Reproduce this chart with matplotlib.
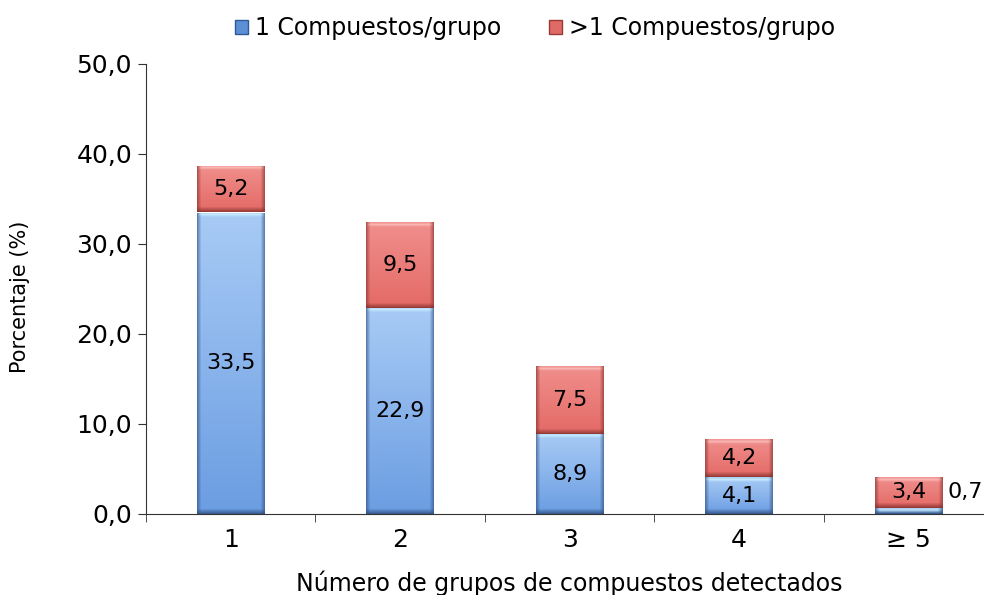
import numpy as np
import matplotlib
matplotlib.use("Agg")
import matplotlib.pyplot as plt
from matplotlib.colors import to_rgb
from matplotlib.patches import Patch

categories = ["1", "2", "3", "4", "\u2265 5"]
uno = [33.5, 22.9, 8.9, 4.1, 0.7]
mas = [5.2, 9.5, 7.5, 4.2, 3.4]
uno_labels = ["33,5", "22,9", "8,9", "4,1", "0,7"]
mas_labels = ["5,2", "9,5", "7,5", "4,2", "3,4"]
yticks = [0, 10, 20, 30, 40, 50]
ytick_labels = ["0,0", "10,0", "20,0", "30,0", "40,0", "50,0"]

plt.rcParams['font.family'] = ['DejaVu Sans']

fig = plt.figure(figsize=(9.84, 5.95), dpi=100)
ax = fig.add_axes([146/984, 1-514/595, 1-146/984, (514-64)/595])

x = np.arange(len(categories))
w = 0.40
XMAX = (984 - 231) / 169.4
PX_PER_Y = 9.0

BLUE = dict(top="#a8cbf5", bot="#6b9de2", dark="#2e4f80", hl="#c6ecff")
RED = dict(top="#f08f8c", bot="#e46a66", dark="#84302c", hl="#f9b9b6")

def bevel_image(hpx, wpx, pal):
    ny = max(int(round(hpx)), 2)
    nx = wpx
    t = np.linspace(0, 1, ny)[:, None]
    top = np.array(to_rgb(pal["top"]))
    bot = np.array(to_rgb(pal["bot"]))
    dark = np.array(to_rgb(pal["dark"]))
    hl = np.array(to_rgb(pal["hl"]))
    f = t
    img = top[None, None, :] * (1 - f[..., None]) + bot[None, None, :] * f[..., None]
    img = np.repeat(img, nx, axis=1)
    xs = np.arange(nx)
    dx = np.minimum(xs, nx - 1 - xs).astype(float)
    side = np.clip(1 - dx / 4.0, 0, 1)[None, :] * 0.6
    img = img * (1 - side[..., None]) + dark[None, None, :] * side[..., None]
    ys = np.arange(ny)
    dyb = (ny - 1 - ys).astype(float)
    bdark = np.clip(1 - dyb / 5.0, 0, 1)[:, None] * 0.8
    img = img * (1 - bdark[..., None]) + dark[None, None, :] * bdark[..., None]
    dyt = ys.astype(float)
    thl = (np.clip(1 - np.abs(dyt - 2.0) / 2.5, 0, 1)[:, None]
           * np.clip(dx / 5.0, 0, 1)[None, :]) * 0.9
    img = img * (1 - thl[..., None]) + hl[None, None, :] * thl[..., None]
    return np.clip(img, 0, 1)

def grad_bar(xc, bottom, height, pal):
    bars = ax.bar(xc, height, w, bottom=bottom, color="none", edgecolor="none", zorder=2)
    img = bevel_image(height * PX_PER_Y, 68, pal)
    im = ax.imshow(img, aspect="auto", origin="upper",
                   extent=[xc - w/2, xc + w/2, bottom, bottom + height],
                   zorder=2, interpolation="bilinear")
    im.set_clip_path(bars[0])

for i in range(len(categories)):
    grad_bar(x[i], 0, uno[i], BLUE)
    grad_bar(x[i], uno[i], mas[i], RED)

for i in range(len(categories)):
    if uno[i] > 2:
        ax.text(x[i], uno[i] / 2, uno_labels[i], ha="center", va="center", fontsize=16, zorder=5)
    else:
        ax.text(x[i] + w/2 + 0.03, 2.4, uno_labels[i], ha="left", va="center", fontsize=16, zorder=5)
    ax.text(x[i], uno[i] + mas[i] / 2, mas_labels[i], ha="center", va="center", fontsize=16, zorder=5)

ax.set_yticks(yticks)
ax.set_yticklabels(ytick_labels, fontsize=18)
ax.set_xticks(x)
ax.set_xticklabels(categories, fontsize=18)
ax.tick_params(axis="x", length=0, pad=10)
ax.set_xticks(np.arange(-0.5, 4.0, 1.0), minor=True)
ax.tick_params(axis="x", which="minor", length=6, color="#333333")
ax.tick_params(axis="y", length=6, color="#333333", pad=4)
ax.set_xlim(-0.5, XMAX)
ax.set_ylim(0, 50)
for s in ["top", "right"]:
    ax.spines[s].set_visible(False)
ax.spines["left"].set_color("#333333")
ax.spines["bottom"].set_color("#333333")

fig.text(20/984, 1 - 297/595, "Porcentaje (%)", rotation=90, ha="center", va="center", fontsize=15)
fig.text(569/984, 1 - 583/595, "Número de grupos de compuestos detectados", ha="center", va="center", fontsize=17)

handles = [Patch(facecolor="#5b8fd6", edgecolor="#2f5a95"), Patch(facecolor="#e06a66", edgecolor="#993a36")]
fig.legend(handles, ["1 Compuestos/grupo", ">1 Compuestos/grupo"], loc="center",
           bbox_to_anchor=(535/984, 1 - 28/595), ncol=2, frameon=False, fontsize=17,
           handlelength=0.55, handleheight=0.55, handletextpad=0.3, columnspacing=2.0)

fig.savefig("out.png", dpi=100)
